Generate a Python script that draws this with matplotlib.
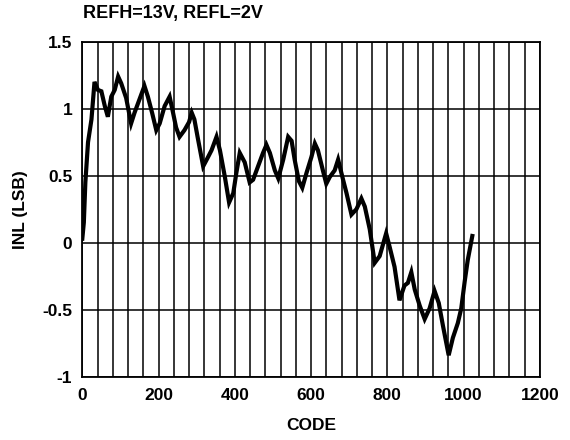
import matplotlib
matplotlib.use("Agg")
import matplotlib.pyplot as plt
from matplotlib.ticker import MultipleLocator

plt.rcParams['font.family'] = ['Liberation Sans', 'DejaVu Sans']

code = [0, 4, 8, 15, 24, 32, 41, 50, 59, 67, 76, 85, 94, 102, 115, 128, 137, 150,
        163, 172, 183, 194, 203, 216, 229, 238, 246, 255, 268, 280, 287, 294, 303,
        317, 330, 339, 352, 361, 374, 385, 396, 404, 413, 426, 439, 448, 461, 474,
        483, 492, 505, 514, 527, 540, 549, 557, 568, 577, 588, 601, 610, 618, 631,
        640, 649, 662, 671, 684, 693, 706, 719, 732, 741, 754, 767, 780, 797, 806,
        819, 832, 845, 854, 863, 872, 885, 898, 911, 924, 935, 946, 961, 972, 985,
        994, 1003, 1011, 1023]
inl = [0.03, 0.15, 0.45, 0.75, 0.92, 1.20, 1.14, 1.13, 1.02, 0.94, 1.09, 1.14, 1.24,
       1.19, 1.08, 0.89, 0.97, 1.07, 1.17, 1.09, 0.97, 0.84, 0.89, 1.02, 1.09, 0.97,
       0.86, 0.79, 0.84, 0.90, 0.97, 0.92, 0.78, 0.57, 0.64, 0.69, 0.79, 0.69, 0.49,
       0.30, 0.37, 0.52, 0.67, 0.60, 0.45, 0.47, 0.57, 0.67, 0.73, 0.67, 0.54, 0.48,
       0.62, 0.79, 0.76, 0.62, 0.46, 0.41, 0.52, 0.64, 0.74, 0.69, 0.54, 0.44, 0.49,
       0.54, 0.62, 0.47, 0.37, 0.21, 0.25, 0.33, 0.27, 0.10, -0.15, -0.10, 0.07,
       -0.03, -0.18, -0.43, -0.32, -0.30, -0.22, -0.35, -0.47, -0.57, -0.49, -0.36,
       -0.45, -0.62, -0.84, -0.71, -0.60, -0.49, -0.29, -0.13, 0.05]

title = "REFH=13V, REFL=2V"
xlabel = "CODE"
ylabel = "INL (LSB)"
yticks = [-1, -0.5, 0, 0.5, 1, 1.5]
ytick_labels = ['-1', '-0.5', '0', '0.5', '1', '1.5']

fig = plt.figure(figsize=(5.7, 4.4), dpi=100)
ax = fig.add_axes([0.1444, 0.1439, 0.8026, 0.7613])

ax.plot(code, inl, color='black', lw=3.0, solid_joinstyle='miter', zorder=3)

ax.set_xlim(0, 1200)
ax.set_ylim(-1, 1.5)
ax.xaxis.set_major_locator(MultipleLocator(200))
ax.xaxis.set_minor_locator(MultipleLocator(40))
ax.set_yticks(yticks)
ax.set_yticklabels(ytick_labels)
ax.grid(which='both', axis='x', color='black', lw=1.1)
ax.grid(which='major', axis='y', color='black', lw=1.1)
ax.tick_params(which='both', length=0, labelsize=12.5)
ax.tick_params(axis='x', pad=8.2)
ax.tick_params(axis='y', pad=7.2)
for lab in ax.get_xticklabels() + ax.get_yticklabels():
    lab.set_fontweight('bold')
for s in ax.spines.values():
    s.set_linewidth(1.3)

ax.set_xlabel(xlabel, fontsize=12.5, fontweight='bold')
ax.set_ylabel(ylabel, fontsize=12.5, fontweight='bold')
ax.xaxis.set_label_coords(0.5, -0.147)
ax.xaxis.label.set_va('center')
ax.yaxis.set_label_coords(-0.136, 0.5)
ax.yaxis.label.set_va('center')
fig.text(83 / 570, 1 - 13.5 / 440, title, fontsize=13, fontweight='bold',
         ha='left', va='center')

fig.savefig("out.png", dpi=100)
